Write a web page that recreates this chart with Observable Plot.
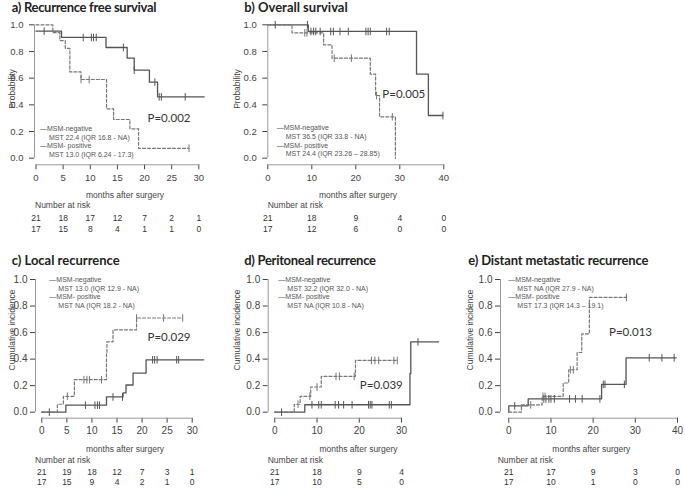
<!DOCTYPE html>
<html><head><meta charset="utf-8">
<script src="https://cdn.jsdelivr.net/npm/d3@7"></script>
<script src="https://cdn.jsdelivr.net/npm/@observablehq/plot@0.6"></script>
<style>
body{margin:0;background:#fff;}
#fig{position:relative;width:685px;height:488px;overflow:hidden;background:#fff;font-family:"Liberation Sans",Arial,sans-serif;}
.abs{position:absolute;white-space:nowrap;line-height:1;}
.title{font-family:Lato,"Open Sans",sans-serif;font-weight:bold;font-size:13px;color:#222;}
.pval{font-family:Lato,sans-serif;font-size:11.5px;color:#333;}
.leg{font-size:7px;color:#555;}
.lab{font-size:8.5px;color:#444;}
#fig svg{position:absolute;overflow:visible;}
</style></head><body><div id="fig"></div>
<script>
// ---------- a) Recurrence free survival ----------
const aNegT = [0, 4.7, 12.9, 16.8, 18.1, 20.9, 22.4, 31.0];
const aNegS = [0.952, 0.905, 0.83, 0.75, 0.66, 0.57, 0.46, 0.46];
const aNegCens = [1.5, 8.7, 10.2, 10.6, 11.1, 16.1, 18.1, 21.9, 22.7, 23.1, 27.5];
const aPosT = [0, 3.1, 4.4, 5.4, 6.24, 8.3, 13.0, 14.3, 17.3, 18.9, 28.2];
const aPosS = [1, 0.941, 0.882, 0.824, 0.647, 0.59, 0.37, 0.29, 0.22, 0.074, 0.074];
const aPosCens = [8.3, 9.8, 28.2];
const aRiskT = [0, 5, 10, 15, 20, 25, 30];
const aRiskNeg = [21, 18, 17, 12, 7, 2, 1];
const aRiskPos = [17, 15, 8, 4, 1, 1, 0];

// ---------- b) Overall survival ----------
const bNegT = [0, 9.2, 33.8, 36.5, 39.8];
const bNegS = [1, 0.95, 0.63, 0.32, 0.32];
const bNegCens = [1.7, 9.0, 9.8, 10.4, 10.9, 11.9, 14.3, 14.9, 16.4, 18.3, 22.3, 22.8, 23.3, 27.0, 27.6, 39.8];
const bPosT = [0, 5.5, 12.7, 14.6, 23.3, 24.5, 25.4, 29.0];
const bPosS = [1, 0.94, 0.85, 0.75, 0.63, 0.47, 0.31, 0.0];
const bPosCens = [8.4, 8.9, 15.1, 19.0, 24.7, 28.3];
const bRiskT = [0, 10, 20, 30, 40];
const bRiskNeg = [21, 18, 9, 4, 0];
const bRiskPos = [17, 12, 6, 0, 0];

// ---------- c) Local recurrence ----------
const cNegT = [0, 4.8, 12.9, 16.2, 16.8, 18.2, 20.8, 32.3];
const cNegS = [0, 0.053, 0.115, 0.145, 0.205, 0.295, 0.395, 0.395];
const cNegCens = [1.5, 8.7, 10.6, 11.1, 11.5, 14.2, 16.1, 22.1, 22.5, 23.0, 26.9, 27.3];
const cPosT = [0, 3.1, 4.3, 6.5, 12.9, 13.0, 14.2, 18.9, 28.1];
const cPosS = [0, 0.06, 0.12, 0.245, 0.44, 0.53, 0.62, 0.71, 0.71];
const cPosCens = [5.1, 8.4, 9.0, 9.5, 11.9, 18.9, 24.3, 28.1];
const cRiskT = [0, 5, 10, 15, 20, 25, 30];
const cRiskNeg = [21, 19, 18, 12, 7, 3, 1];
const cRiskPos = [17, 15, 9, 4, 2, 1, 0];

// ---------- d) Peritoneal recurrence ----------
const dNegT = [0, 7.1, 32.0, 32.2, 38.8];
const dNegS = [0, 0.056, 0.29, 0.53, 0.53];
const dNegCens = [1.6, 8.8, 10.4, 11.0, 14.3, 15.1, 16.3, 18.3, 22.2, 22.6, 23.0, 27.1, 27.6, 33.9];
const dPosT = [0, 4.6, 6.0, 8.5, 11.0, 19.1, 29.0];
const dPosS = [0, 0.06, 0.12, 0.19, 0.27, 0.39, 0.39];
const dPosCens = [5.5, 8.3, 10.0, 14.5, 15.3, 18.8, 22.9, 23.7, 24.6, 28.2, 29.0];
const dRiskT = [0, 10, 20, 30];
const dRiskNeg = [21, 18, 9, 4];
const dRiskPos = [17, 10, 5, 0];

// ---------- e) Distant metastatic recurrence ----------
const eNegT = [0, 0, 4.6, 22.0, 27.8, 39.7];
const eNegS = [0, 0.048, 0.10, 0.21, 0.41, 0.41];
const eNegCens = [1.4, 8.3, 8.8, 9.5, 10.0, 10.8, 14.4, 15.8, 17.4, 21.6, 22.4, 22.8, 27.4, 33.3, 36.3, 39.2];
const ePosT = [0, 3.0, 7.9, 12.9, 14.2, 16.2, 17.3, 19.1, 27.9];
const ePosS = [0, 0.055, 0.12, 0.22, 0.32, 0.45, 0.59, 0.865, 0.865];
const ePosCens = [5.2, 8.1, 8.6, 14.6, 15.3, 27.9];
const eRiskT = [0, 10, 20, 30, 40];
const eRiskNeg = [21, 17, 9, 3, 0];
const eRiskPos = [17, 10, 1, 0, 0];

const fig = document.getElementById("fig");
const NEG = "#555", POS = "#777";
const vbar = {draw(ctx) { ctx.moveTo(0, -3.8); ctx.lineTo(0, 3.8); }};

function steps(T, S) { return T.map((t, i) => ({t, s: S[i]})); }
function valAt(T, S, t) { let v = S[0]; for (let i = 0; i < T.length; i++) if (T[i] <= t) v = S[i]; return v; }
function cens(C, T, S) { return C.map(t => ({t, s: valAt(T, S, t)})); }

function panel(c) {
  const kx = (c.t1 - c.t0) / c.tickMax, ky = c.p0 - c.p1;
  const xmin = (c.yAxisPx - c.t0) / kx;
  const rightPx = c.t1 + 6;
  const xmax = (rightPx - c.t0) / kx;
  const topPx = c.p1 - 5;
  const ymax = (c.p0 - topPx) / ky;
  const ymin = -(c.xAxisPx - c.p0) / ky;
  const risk = c.riskT.map((t, i) => ({t, neg: c.riskNeg[i], pos: c.riskPos[i]}));
  const svg = Plot.plot({
    width: c.w, height: c.h,
    marginLeft: c.yAxisPx - c.left,
    marginRight: c.left + c.w - rightPx,
    marginTop: topPx - c.top,
    marginBottom: c.top + c.h - c.xAxisPx,
    x: {domain: [xmin, xmax], ticks: c.xTicks, tickSize: 5, tickPadding: 4, tickFormat: d => d, label: null},
    y: {domain: [ymin, ymax], ticks: [0, 0.2, 0.4, 0.6, 0.8, 1.0], tickFormat: d => d.toFixed(1), tickSize: 5, tickPadding: c.yPad, label: null},
    style: {fontFamily: "Liberation Sans, Arial, sans-serif", fontSize: c.tickFont + "px", color: "#444", background: "transparent", overflow: "visible"},
    marks: [
      Plot.ruleX([xmin], {y1: 0, y2: 1, stroke: "#999"}),
      Plot.ruleY([ymin], {x1: c.xTicks[0], x2: c.xTicks[c.xTicks.length - 1], stroke: "#999"}),
      Plot.line(steps(c.negT, c.negS), {x: "t", y: "s", curve: "step-after", stroke: NEG, strokeWidth: 1.3}),
      Plot.line(steps(c.posT, c.posS), {x: "t", y: "s", curve: "step-after", stroke: POS, strokeWidth: 1.2, strokeDasharray: "3,2"}),
      Plot.dot(cens(c.negC, c.negT, c.negS), {x: "t", y: "s", symbol: vbar, stroke: NEG, fill: "none", strokeWidth: 1}),
      Plot.dot(cens(c.posC, c.posT, c.posS), {x: "t", y: "s", symbol: vbar, stroke: POS, fill: "none", strokeWidth: 1}),
      Plot.text(risk, {x: "t", text: "neg", frameAnchor: "bottom", dy: 56.4, fontSize: 8.5, fill: "#333"}),
      Plot.text(risk, {x: "t", text: "pos", frameAnchor: "bottom", dy: 66.7, fontSize: 8.5, fill: "#333"})
    ]
  });
  svg.style.left = c.left + "px";
  svg.style.top = c.top + "px";
  fig.appendChild(svg);
}

function txt(s, x, y, cls, anchor, extra) {
  const d = document.createElement("div");
  d.className = "abs " + cls;
  d.textContent = s;
  d.style.left = x + "px"; d.style.top = y + "px";
  if (anchor === "c") d.style.transform = "translate(-50%,-50%)";
  else if (anchor === "r") d.style.transform = "translate(-50%,-50%) rotate(-90deg)";
  else d.style.transform = "translate(0,-50%)";
  if (extra) Object.assign(d.style, extra);
  fig.appendChild(d);
}

panel({left: 0, top: 14, w: 225, h: 226, t0: 35.5, t1: 198.3, tickMax: 30, yAxisPx: 34, p0: 157.7, p1: 24.3, xAxisPx: 164.3,
  xTicks: [0, 5, 10, 15, 20, 25, 30], tickFont: 9.5, yPad: 6,
  negT: aNegT, negS: aNegS, negC: aNegCens, posT: aPosT, posS: aPosS, posC: aPosCens,
  riskT: aRiskT, riskNeg: aRiskNeg, riskPos: aRiskPos});
panel({left: 225, top: 14, w: 230, h: 226, t0: 267.3, t1: 443.3, tickMax: 40, yAxisPx: 267.3, p0: 157.7, p1: 24.3, xAxisPx: 164.3,
  xTicks: [0, 10, 20, 30, 40], tickFont: 9.5, yPad: 6,
  negT: bNegT, negS: bNegS, negC: bNegCens, posT: bPosT, posS: bPosS, posC: bPosCens,
  riskT: bRiskT, riskNeg: bRiskNeg, riskPos: bRiskPos});
panel({left: 0, top: 268, w: 225, h: 220, t0: 41.3, t1: 191.7, tickMax: 30, yAxisPx: 35, p0: 411.7, p1: 279, xAxisPx: 417.7,
  xTicks: [0, 5, 10, 15, 20, 25, 30], tickFont: 10, yPad: 3,
  negT: cNegT, negS: cNegS, negC: cNegCens, posT: cPosT, posS: cPosS, posC: cPosCens,
  riskT: cRiskT, riskNeg: cRiskNeg, riskPos: cRiskPos});
panel({left: 225, top: 268, w: 230, h: 220, t0: 274.3, t1: 401, tickMax: 30, yAxisPx: 267.7, p0: 411.7, p1: 279, xAxisPx: 417.7,
  xTicks: [0, 10, 20, 30], tickFont: 10, yPad: 3,
  negT: dNegT, negS: dNegS, negC: dNegCens, posT: dPosT, posS: dPosS, posC: dPosCens,
  riskT: dRiskT, riskNeg: dRiskNeg, riskPos: dRiskPos});
panel({left: 455, top: 268, w: 230, h: 220, t0: 508.3, t1: 677, tickMax: 40, yAxisPx: 500, p0: 411.7, p1: 279, xAxisPx: 417.7,
  xTicks: [0, 10, 20, 30, 40], tickFont: 10, yPad: 3,
  negT: eNegT, negS: eNegS, negC: eNegCens, posT: ePosT, posS: ePosS, posC: ePosCens,
  riskT: eRiskT, riskNeg: eRiskNeg, riskPos: eRiskPos});

// titles
txt("a) Recurrence free survival", 11.7, 7, "title", null, {letterSpacing: "-0.3px"});
txt("b) Overall survival", 244.3, 7, "title");
txt("c) Local recurrence", 11.7, 260, "title");
txt("d) Peritoneal recurrence", 244.3, 260, "title", null, {letterSpacing: "-0.3px"});
txt("e) Distant metastatic recurrence", 468.3, 260, "title", null, {letterSpacing: "-0.15px"});
// p-values
txt("P=0.002", 169, 117.5, "pval", "c");
txt("P=0.005", 403.8, 94.3, "pval", "c");
txt("P=0.029", 169, 336.7, "pval", "c");
txt("P=0.039", 381.3, 385, "pval", "c");
txt("P=0.013", 630.5, 332.3, "pval", "c");
// axis titles
[[125, 195], [358, 195], [125, 449.3], [358.5, 449.3], [591.3, 449.3]].forEach(([x, y]) => txt("months after surgery", x, y, "lab", "c"));
[[35, 205], [267.7, 205], [35, 460], [267.7, 460], [497.7, 460]].forEach(([x, y]) => txt("Number at risk", x, y, "lab"));
txt("Probability", 12, 89, "lab", "r");
txt("Probability", 236.7, 89, "lab", "r");
txt("Cumulative incidence", 12, 330, "lab", "r");
txt("Cumulative incidence", 236.7, 330, "lab", "r");
txt("Cumulative incidence", 470, 330, "lab", "r");
// legends
function legend(x, y, l1, l2) {
  txt("\u2014MSM-negative", x, y, "leg");
  txt(l1, x + 9, y + 8.6, "leg");
  txt("\u2014MSM- positive", x, y + 17.2, "leg");
  txt(l2, x + 9, y + 25.8, "leg");
}
legend(40, 128, "MST 22.4 (IQR 16.8 - NA)", "MST 13.0 (IQR 6.24 - 17.3)");
legend(276.7, 127.3, "MST 36.5 (IQR 33.8 - NA)", "MST 24.4 (IQR 23.26 \u2013 28.85)");
legend(49.3, 279, "MST 13.0 (IQR 12.9 - NA)", "MST NA (IQR 18.2 - NA)");
legend(278.3, 279, "MST 32.2 (IQR 32.0 - NA)", "MST NA (IQR 10.8 - NA)");
legend(508.3, 279, "MST NA (IQR 27.9 - NA)", "MST 17.3 (IQR 14.3 \u2013 19.1)");
</script></body></html>
